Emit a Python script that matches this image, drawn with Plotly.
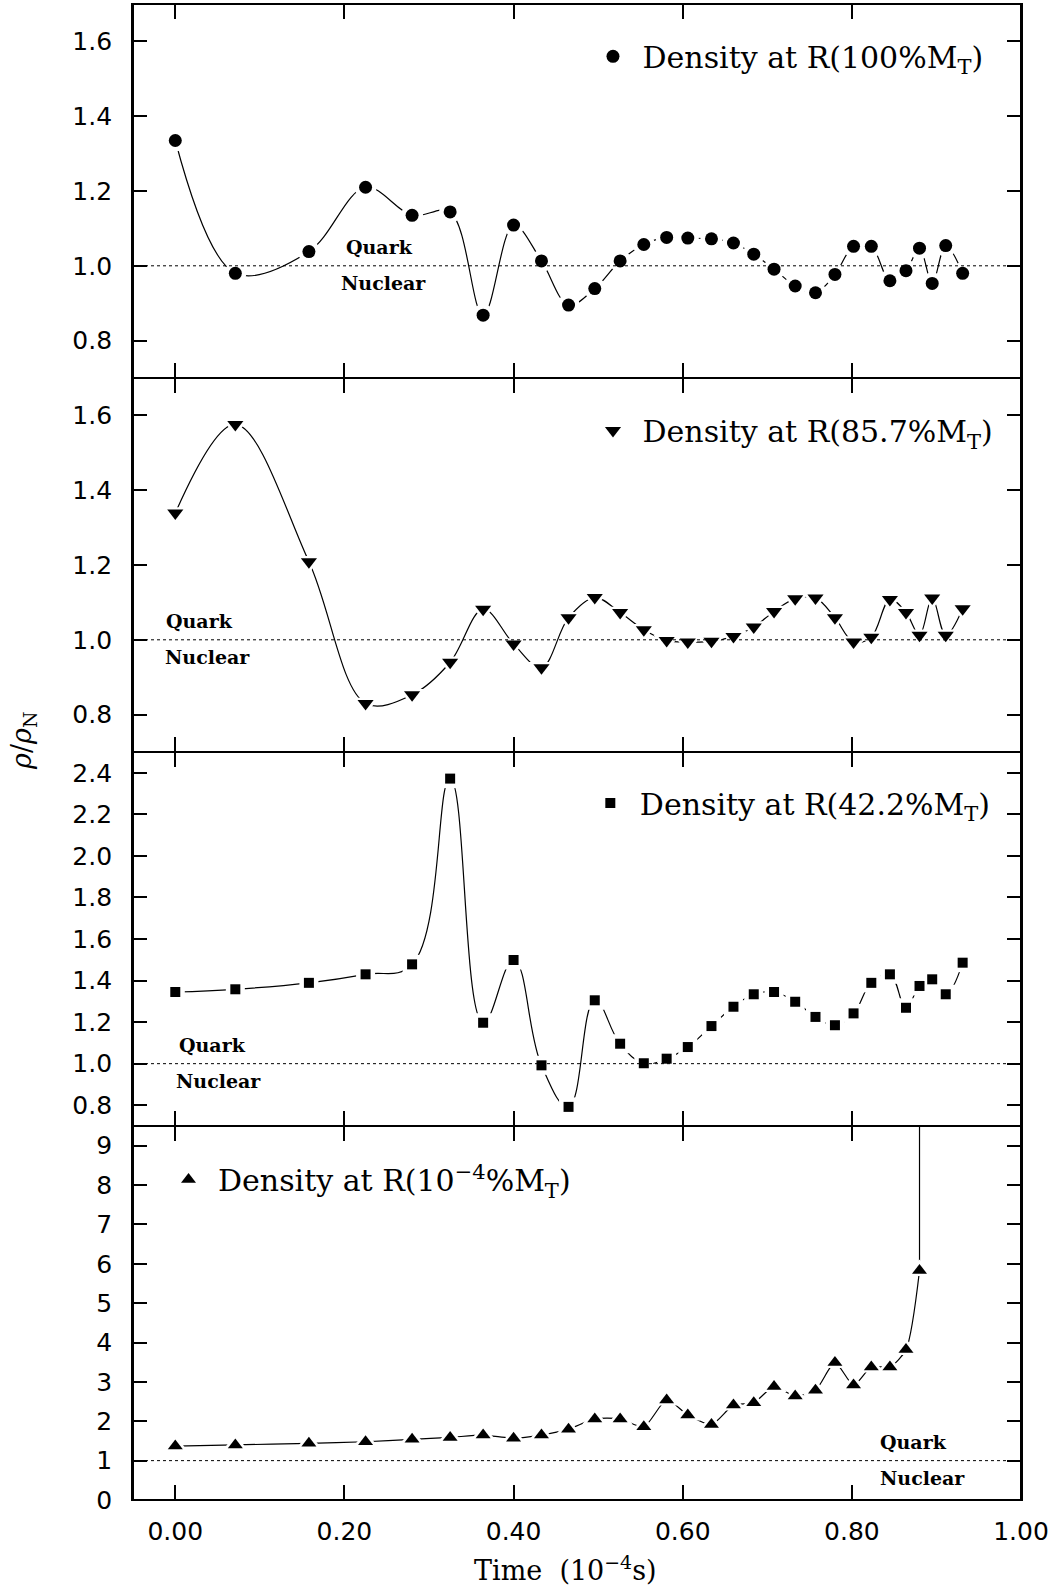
import plotly.graph_objects as go

# ---------------- data ----------------
time_grid = [0.000, 0.071, 0.158, 0.225, 0.280, 0.325, 0.364, 0.400, 0.433, 0.465,
             0.496, 0.526, 0.554, 0.581, 0.606, 0.634, 0.660, 0.684, 0.708, 0.733,
             0.757, 0.780, 0.802, 0.823, 0.845, 0.864, 0.880, 0.895, 0.911, 0.931]

rho_100 = [1.335, 0.980, 1.038, 1.210, 1.135, 1.144, 0.868, 1.109, 1.013, 0.895,
           0.939, 1.013, 1.057, 1.076, 1.074, 1.072, 1.061, 1.031, 0.991, 0.946,
           0.928, 0.977, 1.052, 1.052, 0.960, 0.987, 1.047, 0.953, 1.054, 0.980]

rho_857 = [1.339, 1.576, 1.209, 0.830, 0.853, 0.940, 1.082, 0.989, 0.925, 1.059,
           1.113, 1.073, 1.027, 0.998, 0.994, 0.996, 1.009, 1.034, 1.076, 1.110,
           1.112, 1.059, 0.994, 1.007, 1.108, 1.073, 1.012, 1.112, 1.012, 1.083]

rho_422 = [1.345, 1.358, 1.389, 1.430, 1.478, 2.372, 1.197, 1.499, 0.992, 0.792,
           1.305, 1.096, 1.002, 1.024, 1.080, 1.181, 1.274, 1.334, 1.345, 1.298,
           1.225, 1.185, 1.242, 1.389, 1.430, 1.269, 1.374, 1.406, 1.334, 1.486]

rho_1e4 = [1.37, 1.40, 1.44, 1.48, 1.54, 1.59, 1.65, 1.57, 1.65, 1.80,
           2.06, 2.06, 1.86, 2.54, 2.16, 1.92, 2.41, 2.47, 2.88, 2.64,
           2.79, 3.49, 2.92, 3.38, 3.38, 3.82, 5.83]

series_names = ["Density at R(100%M<sub>T</sub>)",
                "Density at R(85.7%M<sub>T</sub>)",
                "Density at R(42.2%M<sub>T</sub>)",
                "Density at R(10<sup>\u22124</sup>%M<sub>T</sub>)"]

y_ranges = [[0.7, 1.7], [0.7, 1.7], [0.7, 2.5], [0.0, 9.5]]
y_ticks = [[0.8, 1.0, 1.2, 1.4, 1.6],
           [0.8, 1.0, 1.2, 1.4, 1.6],
           [0.8, 1.0, 1.2, 1.4, 1.6, 1.8, 2.0, 2.2, 2.4],
           [0, 1, 2, 3, 4, 5, 6, 7, 8, 9]]
y_tick_fmt = [".1f", ".1f", ".1f", "d"]
x_ticks = [0.0, 0.2, 0.4, 0.6, 0.8, 1.0]
x_range = [-0.05, 1.0]
threshold = 1.0
label_top = "Quark"
label_bottom = "Nuclear"
label_top_x = [0.200, -0.013, 0.002, 0.831]
label_bottom_x = [0.194, -0.014, -0.001, 0.831]

# ---------------- styling ----------------
symbols = ["circle", "triangle-down", "square", "triangle-up"]
msizes = [13, 14, 10, 13]
smoothing = [1.0, 1.0, 1.2, 0.7]
legend_pos = [(0.518, 0.965), (0.518, 0.7149), (0.515, 0.4659), (0.040, 0.2142)]

series = [rho_100, rho_857, rho_422, rho_1e4]

fig = go.Figure()

for k in range(4):
    xs = time_grid[:len(series[k])]
    ys = series[k]
    xa = "x" if k == 0 else f"x{k+1}"
    ya = "y" if k == 0 else f"y{k+1}"
    lg = "legend" if k == 0 else f"legend{k+1}"
    fig.add_trace(go.Scatter(
        x=xs, y=ys, mode="lines", xaxis=xa, yaxis=ya,
        line=dict(color="black", width=1.2, shape="spline", smoothing=smoothing[k]),
        showlegend=False, hoverinfo="skip"))
    if k == 3:
        # final collapse: the curve rises vertically to the top of the frame
        fig.add_trace(go.Scatter(
            x=[xs[-1], xs[-1]], y=[ys[-1], y_ranges[3][1]], mode="lines",
            xaxis=xa, yaxis=ya, line=dict(color="black", width=1.2),
            showlegend=False, hoverinfo="skip"))
    fig.add_trace(go.Scatter(
        x=xs, y=ys, mode="markers", xaxis=xa, yaxis=ya,
        marker=dict(symbol=symbols[k], size=msizes[k] + 9, color="white"),
        showlegend=False, hoverinfo="skip"))
    fig.add_trace(go.Scatter(
        x=xs, y=ys, mode="markers", xaxis=xa, yaxis=ya,
        marker=dict(symbol=symbols[k], size=msizes[k], color="black"),
        name="\u00a0" + series_names[k], legend=lg, showlegend=True))

layout = dict(
    width=1060, height=1590,
    margin=dict(l=133, r=39, t=4, b=90),
    paper_bgcolor="white", plot_bgcolor="white",
    font=dict(family="DejaVu Serif", color="black"),
)

axis_font = dict(family="DejaVu Sans", size=25, color="black")
for k in range(4):
    dom = [0.75 - 0.25 * k, 1.0 - 0.25 * k]
    xkey = "xaxis" if k == 0 else f"xaxis{k+1}"
    ykey = "yaxis" if k == 0 else f"yaxis{k+1}"
    xa = "x" if k == 0 else f"x{k+1}"
    ya = "y" if k == 0 else f"y{k+1}"
    layout[xkey] = dict(
        domain=[0, 1], anchor=ya, range=x_range,
        tickvals=x_ticks, tickformat=".2f",
        showticklabels=(k == 3), ticks="inside", ticklen=15, tickwidth=1.5,
        tickcolor="black", showline=True, linecolor="black", linewidth=1,
        mirror="ticks", showgrid=False, zeroline=False,
        tickfont=axis_font, ticklabelstandoff=9)
    layout[ykey] = dict(
        domain=dom, anchor=xa, range=y_ranges[k],
        tickvals=y_ticks[k], tickformat=y_tick_fmt[k],
        ticks="inside", ticklen=14, tickwidth=1.5, tickcolor="black",
        showline=True, linecolor="black", linewidth=1.8, mirror="ticks",
        showgrid=False, zeroline=False, tickfont=axis_font,
        ticklabelstandoff=14)
    lg = "legend" if k == 0 else f"legend{k+1}"
    layout[lg] = dict(
        x=legend_pos[k][0], y=legend_pos[k][1], xanchor="left", yanchor="middle",
        bgcolor="rgba(0,0,0,0)", borderwidth=0,
        font=dict(family="DejaVu Serif", size=30, color="black"))

fig.update_layout(**layout)

shapes = [dict(type="rect", xref="paper", yref="paper", x0=0, x1=1, y0=0, y1=1,
               line=dict(color="black", width=2), fillcolor="rgba(0,0,0,0)",
               layer="above")]
annotations = []
for k in range(4):
    xa = "x" if k == 0 else f"x{k+1}"
    ya = "y" if k == 0 else f"y{k+1}"
    shapes.append(dict(type="line", xref=f"{xa} domain", yref=ya,
                       x0=0, x1=1, y0=threshold, y1=threshold,
                       line=dict(color="black", width=1, dash="dot")))
    annotations.append(dict(xref=xa, yref=ya, x=label_top_x[k], y=threshold,
                            text=f"<b>{label_top}</b>", showarrow=False,
                            xanchor="left", yanchor="middle", yshift=19,
                            font=dict(family="DejaVu Serif", size=19, color="black")))
    annotations.append(dict(xref=xa, yref=ya, x=label_bottom_x[k], y=threshold,
                            text=f"<b>{label_bottom}</b>", showarrow=False,
                            xanchor="left", yanchor="middle", yshift=-17,
                            font=dict(family="DejaVu Serif", size=19, color="black")))

annotations.append(dict(xref="paper", yref="paper", x=0.487, y=-0.046,
                        text="Time  (10<sup>\u22124</sup>s)", showarrow=False,
                        xanchor="center", yanchor="middle",
                        font=dict(family="DejaVu Serif", size=27, color="black")))
annotations.append(dict(xref="paper", yref="paper", x=-0.1227, y=0.5074,
                        text="<i>\u03c1</i>/<i>\u03c1</i><sub>N</sub>", showarrow=False,
                        textangle=-90, xanchor="center", yanchor="middle",
                        font=dict(family="DejaVu Serif", size=27, color="black")))

fig.update_layout(shapes=shapes, annotations=annotations)

fig.write_html("out.html", config={"displayModeBar": False},
               post_script="document.body.style.margin='0px';")
